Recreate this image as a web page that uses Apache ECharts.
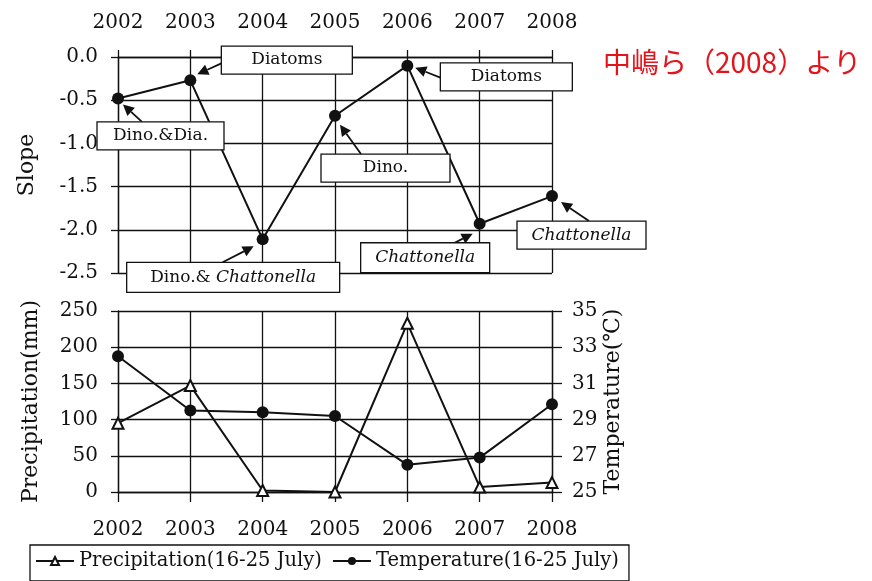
<!DOCTYPE html>
<html>
<head>
<meta charset="utf-8">
<script src="https://cdn.jsdelivr.net/npm/echarts@6/dist/echarts.min.js"></script>
<style>
  html, body { margin: 0; padding: 0; background: #fff; }
  #chart { width: 872px; height: 581px; }
</style>
</head>
<body>
<div id="chart"></div>
<script>
// 年
const years = ['2002', '2003', '2004', '2005', '2006', '2007', '2008'];
// 上段: Slope
const slope = [-0.48, -0.27, -2.11, -0.68, -0.10, -1.93, -1.61];
// 下段: 降水量 (mm) と 水温 (℃)
const precipitation = [95, 147, 2, 0, 233, 7, 13];
const temperature = [32.5, 29.5, 29.4, 29.2, 26.5, 26.9, 29.85];
// 注記ラベル (Slope の各点)
const noteLabels = ['Dino.&Dia.', 'Diatoms', 'Dino.& {i|Chattonella}', 'Dino.',
    'Diatoms', '{i|Chattonella}', '{i|Chattonella}'];

const serif = 'DejaVu Serif';
const ink = '#111';

const chart = echarts.init(document.getElementById('chart'));

const option = {
    backgroundColor: '#fff',
    animation: false,
    textStyle: { fontFamily: serif, color: ink },
    grid: [
        { left: 118, right: 320, top: 57, height: 216 },
        { left: 118, right: 320, top: 311, height: 181 }
    ],
    xAxis: [
        {
            gridIndex: 0, type: 'category', position: 'top', data: years,
            boundaryGap: false,
            axisLine: { lineStyle: { color: ink, width: 1.3 } },
            axisTick: { length: 7, lineStyle: { color: ink, width: 1.3 } },
            axisLabel: { margin: 24, fontSize: 20, color: ink, fontFamily: serif },
            splitLine: { show: true, lineStyle: { color: ink, width: 1.3 } }
        },
        {
            gridIndex: 1, type: 'category', position: 'bottom', data: years,
            boundaryGap: false,
            axisLine: { lineStyle: { color: ink, width: 1.3 } },
            axisTick: { length: 10, lineStyle: { color: ink, width: 1.3 } },
            axisLabel: { margin: 28, fontSize: 20, color: ink, fontFamily: serif },
            splitLine: { show: true, lineStyle: { color: ink, width: 1.3 } }
        }
    ],
    yAxis: [
        {
            gridIndex: 0, type: 'value', min: -2.5, max: 0, interval: 0.5,
            name: 'Slope', nameLocation: 'middle', nameGap: 80, nameRotate: 90,
            nameTextStyle: { fontSize: 22, color: ink, fontFamily: serif },
            axisLine: { show: true, lineStyle: { color: ink, width: 1.3 } },
            axisTick: { show: true, length: 7, lineStyle: { color: ink, width: 1.3 } },
            axisLabel: { margin: 20, fontSize: 20, color: ink, fontFamily: serif,
                formatter: v => v.toFixed(1) },
            splitLine: { show: true, lineStyle: { color: ink, width: 1.3 } }
        },
        {
            gridIndex: 1, type: 'value', min: 0, max: 250, interval: 50,
            name: 'Precipitation(mm)', nameLocation: 'middle', nameGap: 76, nameRotate: 90,
            nameTextStyle: { fontSize: 22, color: ink, fontFamily: serif },
            axisLine: { show: true, lineStyle: { color: ink, width: 1.3 } },
            axisTick: { show: true, length: 7, lineStyle: { color: ink, width: 1.3 } },
            axisLabel: { margin: 20, fontSize: 20, color: ink, fontFamily: serif },
            splitLine: { show: true, lineStyle: { color: ink, width: 1.3 } }
        },
        {
            gridIndex: 1, type: 'value', position: 'right', min: 25, max: 35, interval: 2,
            name: 'Temperature(℃)', nameLocation: 'middle', nameGap: 50, nameRotate: 90,
            nameTextStyle: { fontSize: 22, color: ink, fontFamily: serif },
            axisLine: { show: true, lineStyle: { color: ink, width: 1.3 } },
            axisTick: { show: true, length: 10, lineStyle: { color: ink, width: 1.3 } },
            axisLabel: { margin: 20, fontSize: 20, color: ink, fontFamily: serif },
            splitLine: { show: false }
        }
    ],
    legend: {
        left: 30, top: 545,
        data: ['Precipitation(16-25 July)', 'Temperature(16-25 July)'],
        borderColor: ink, borderWidth: 1.3, padding: [6, 10, 10, 5],
        itemWidth: 38, itemHeight: 10, itemGap: 10,
        textStyle: { fontSize: 19.5, color: ink, fontFamily: serif }
    },
    series: [
        {
            name: 'Slope', type: 'line', xAxisIndex: 0, yAxisIndex: 0,
            data: slope, symbol: 'circle', symbolSize: 12,
            lineStyle: { color: ink, width: 2 },
            itemStyle: { color: ink }, z: 5
        },
        {
            name: 'Precipitation(16-25 July)', type: 'line', xAxisIndex: 1, yAxisIndex: 1,
            data: precipitation, symbol: 'emptyTriangle', symbolSize: 11,
            lineStyle: { color: ink, width: 2 },
            itemStyle: { color: ink, borderColor: ink, borderWidth: 1.5 }, z: 5
        },
        {
            name: 'Temperature(16-25 July)', type: 'line', xAxisIndex: 1, yAxisIndex: 2,
            data: temperature, symbol: 'circle', symbolSize: 12,
            lineStyle: { color: ink, width: 2 },
            itemStyle: { color: ink }, z: 5
        }
    ]
};
chart.setOption(option);

// 注記の配置 (点からの相対位置): box [dx, dy, w, h], 矢印の根元, 矢印の先
const noteLayout = [
    { box: [-21, 23.4, 127, 28], tail: [24, 23.4], tip: [5, 6] },
    { box: [31, -34.3, 131, 28], tail: [31, -17], tip: [7, -6] },
    { box: [-136, 23, 213, 30], tail: [-40, 23], tip: [-9, 7] },
    { box: [-14, 38.3, 129, 28], tail: [26, 38.3], tip: [5, 9] },
    { box: [33, -2.7, 132, 28], tail: [33, 12], tip: [8, 2] },
    { box: [-119, 19, 129, 30], tail: [-25, 19], tip: [-7, 10] },
    { box: [-35, 25, 129, 28], tail: [37, 25], tip: [9, 6] }
];

const graphics = [];
slope.forEach((v, i) => {
    const p = chart.convertToPixel({ seriesIndex: 0 }, [i, v]);
    const L = noteLayout[i];
    const bx = p[0] + L.box[0], by = p[1] + L.box[1];
    // 矢印
    const sx = p[0] + L.tail[0], sy = p[1] + L.tail[1];
    const tx = p[0] + L.tip[0], ty = p[1] + L.tip[1];
    let dx = tx - sx, dy = ty - sy;
    const len = Math.sqrt(dx * dx + dy * dy);
    dx /= len; dy /= len;
    const hl = 11, hw = 5.5;
    const baseX = tx - dx * hl, baseY = ty - dy * hl;
    graphics.push({
        type: 'line', z: 20,
        shape: { x1: sx, y1: sy, x2: baseX, y2: baseY },
        style: { stroke: ink, lineWidth: 1.8 }
    });
    graphics.push({
        type: 'polygon', z: 20,
        shape: { points: [[tx, ty], [baseX - dy * hw, baseY + dx * hw], [baseX + dy * hw, baseY - dx * hw]] },
        style: { fill: ink }
    });
    // 枠
    graphics.push({
        type: 'rect', z: 21,
        shape: { x: bx, y: by, width: L.box[2], height: L.box[3] },
        style: { fill: '#fff', stroke: ink, lineWidth: 1.3 }
    });
    graphics.push({
        type: 'text', z: 22,
        x: bx + L.box[2] / 2, y: by + L.box[3] / 2,
        style: {
            text: noteLabels[i], align: 'center', verticalAlign: 'middle',
            font: '17px "DejaVu Serif"', fill: ink,
            rich: { i: { fontStyle: 'italic', fontSize: 17, fontFamily: serif } }
        }
    });
});

// 出典
graphics.push({
    type: 'text', z: 30, left: 603, top: 48,
    style: {
        text: '中嶋ら（2008）より', fill: '#e3141c',
        font: '28px "Noto Sans CJK JP"'
    }
});

chart.setOption({ graphic: graphics });
</script>
</body>
</html>
